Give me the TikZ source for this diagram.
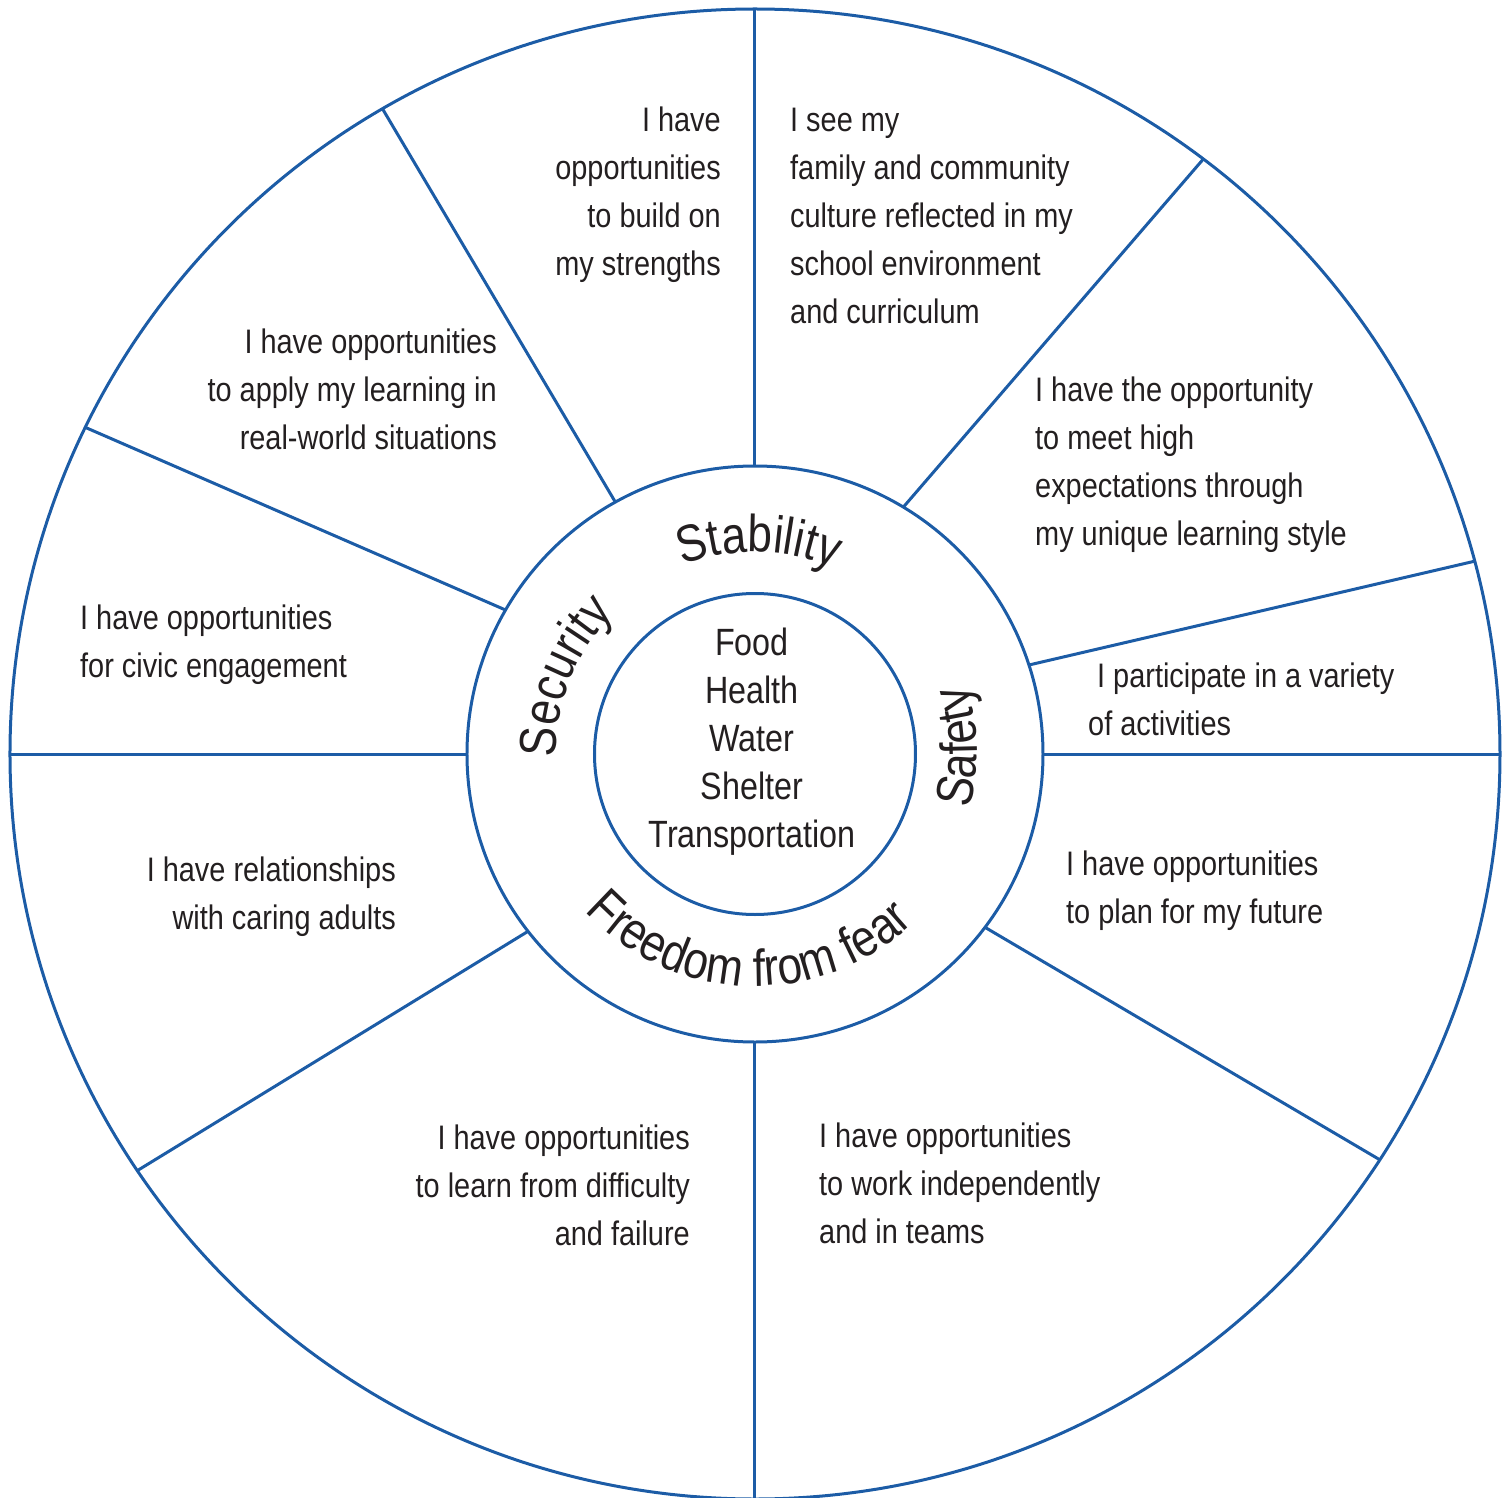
\documentclass[tikz,border=0pt]{standalone}
\usepackage{fontspec}
\setmainfont{Liberation Sans}[FakeStretch=0.85]
\usetikzlibrary{decorations.text}
\definecolor{wheelblue}{RGB}{28,92,166}
\definecolor{ink}{RGB}{35,31,32}
\newcommand\blurbfont{\fontsize{34}{48}\selectfont}
\newcommand\needsfont{\fontsize{38}{48}\selectfont}
\newcommand\ringfont{\fontsize{52}{60}\selectfont\color{ink}}
\tikzset{
  every node/.style={text=ink, inner sep=0pt},
  wheel/.style={draw=wheelblue, line width=3pt, circle, outer sep=0pt},
  spoke/.style={draw=wheelblue, line width=3pt},
  blurb/.style={font=\blurbfont, align=left, anchor=north west},
  rblurb/.style={font=\blurbfont, align=right, anchor=north east},
  ringtext/.style={decorate, decoration={text along path, text align=center, text={|\ringfont|#1}}},
}

\begin{document}
\begin{tikzpicture}[x=1pt,y=1pt]
  \useasboundingbox (-755,-743) rectangle (752,754);
  \node[wheel, minimum size=1490pt] (rim) at (0,0) {};
  \node[wheel, minimum size=576pt] (ring) at (0,0) {};
  \node[wheel, minimum size=321pt] (hub) at (0,0) {};
  % spokes: angle on ring / angle on rim
  \foreach \a/\b in {90/90, 119.2/120, 150.9/154.4, 180/180, 218/214.3, 270/270,
                     323.3/327.3, 0/0, 18.6/15.8, 59.8/53.1}
    \draw[spoke] (ring.\a) -- (rim.\b);

  % ring labels
  \path[ringtext=Stability] (133:202) arc[start angle=133, end angle=45, radius=202];
  \path[ringtext=Security] (202:199) arc[start angle=202, end angle=114, radius=199];
  \path[ringtext=Safety] (-42:222) arc[start angle=-42, end angle=46, radius=222];
  \path[ringtext=Freedom from fear] (198:232) arc[start angle=198, end angle=338, radius=232];

  \node[font=\needsfont, align=center, anchor=north] (needs) at (-3,126.5)
    {Food\\Health\\Water\\Shelter\\Transportation};

  \node[rblurb] (strengths) at (-34,647.6) {I have\\opportunities\\to build on\\my strengths};
  \node[blurb] (culture) at (35,646.4) {I see my\\family and community\\culture reflected in my\\school environment\\and curriculum};
  \node[rblurb] (apply) at (-258,425.6) {I have opportunities\\to apply my learning in\\real-world situations};
  \node[blurb] (civic) at (-675,149.6) {I have opportunities\\for civic engagement};
  \node[rblurb] (adults) at (-359,-102.4) {I have relationships\\with caring adults};
  \node[rblurb] (failure) at (-65,-370.4) {I have opportunities\\to learn from difficulty\\and failure};
  \node[blurb] (teams) at (64,-368.4) {I have opportunities\\to work independently\\and in teams};
  \node[blurb] (future) at (311,-96.4) {I have opportunities\\to plan for my future};
  \node[blurb] (variety) at (333,91.6) {\hspace*{9pt}I participate in a variety\\of activities};
  \node[blurb] (expect) at (280,377.6) {I have the opportunity\\to meet high\\expectations through\\my unique learning style};
\end{tikzpicture}
\end{document}
